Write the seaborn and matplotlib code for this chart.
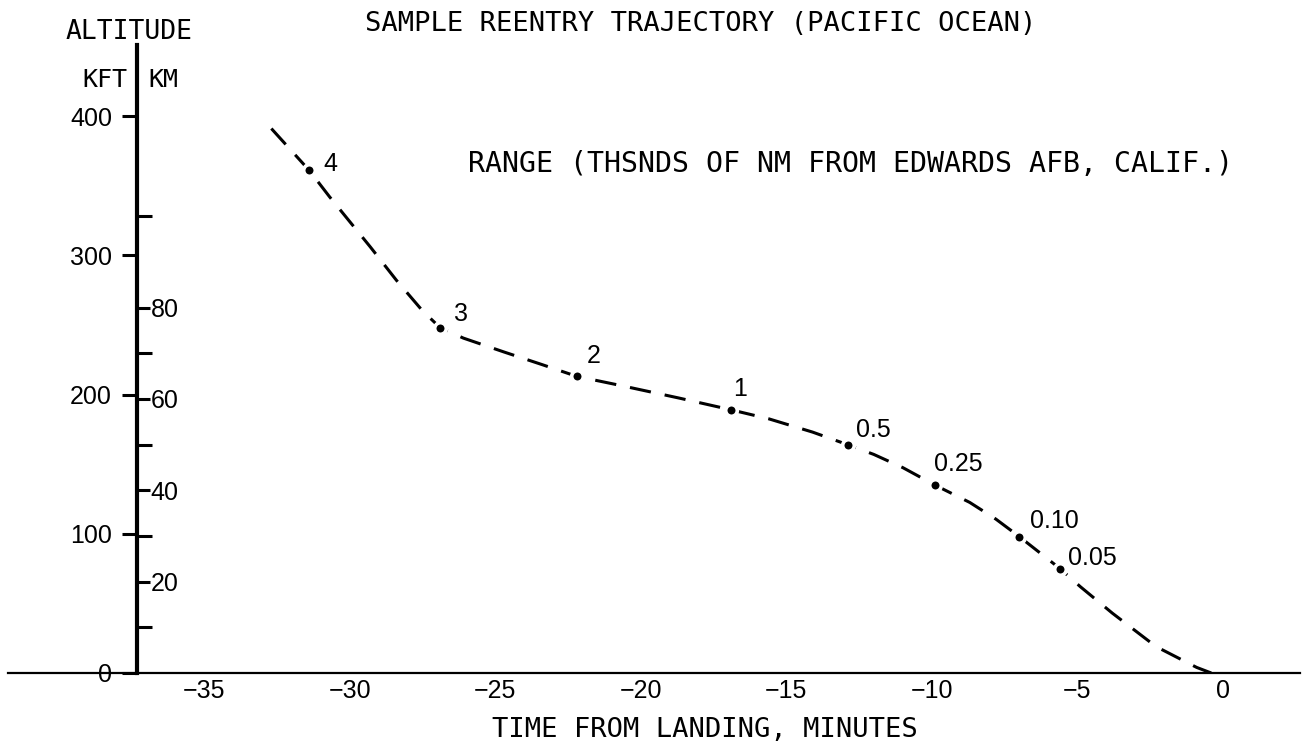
import matplotlib
matplotlib.use("Agg")
import matplotlib.pyplot as plt
from matplotlib.ticker import FixedLocator, NullFormatter
import pandas as pd
import seaborn as sns

# Reentry trajectory trace: minutes from landing vs altitude (kft)
traj_time = [-32.7, -31.4, -30.7, -29.3, -28.4, -27.5, -26.9, -26.1,
             -24.7, -23.4, -22.2, -20.7, -18.7, -16.9, -15.6, -14.1,
             -12.9, -12.0, -11.0, -9.9, -8.7, -7.8, -7.0, -5.6,
             -4.9, -3.8, -2.3, -0.9, -0.4]
traj_alt = [391, 361, 342, 306, 282, 260, 248, 240.5,
            230.5, 221.5, 213, 206.5, 197.5, 189, 182.5, 173,
            164, 157, 147.5, 135, 122.5, 110.5, 98, 75,
            62, 43, 19, 4, 0]

# Range checkpoints (thousands of NM from Edwards AFB)
range_labels = ["4", "3", "2", "1", "0.5", "0.25", "0.10", "0.05"]
range_time = [-31.4, -26.9, -22.2, -16.9, -12.9, -9.9, -7.0, -5.6]
range_alt = [361, 248, 213, 189, 164, 135, 98, 75]

time_ticks = [-35, -30, -25, -20, -15, -10, -5, 0]
kft_ticks = [0, 100, 200, 300, 400]
km_major = [20, 40, 60, 80]
km_minor = [10, 30, 50, 70, 100]

KFT_TO_KM = 0.3048
AXIS_TIME = -37.32          # where the altitude scale crosses the time axis
XLIM = (-41.75, 2.65)
YLIM = (0, 451)

sns.set_theme(style="white", rc={
    "axes.edgecolor": "black",
    "xtick.color": "black",
    "ytick.color": "black",
    "text.color": "black",
    "axes.labelcolor": "black",
})
plt.rcParams["font.family"] = ["Liberation Sans", "DejaVu Sans"]
MONO = "DejaVu Sans Mono"

fig = plt.figure(figsize=(13.1, 7.43), dpi=100)
ax = fig.add_axes([8 / 1310, 70 / 743, 1292 / 1310, 628 / 743])

traj = pd.DataFrame({"time": traj_time, "alt": traj_alt})
marks = pd.DataFrame({"time": range_time, "alt": range_alt, "label": range_labels})

sns.lineplot(data=traj, x="time", y="alt", ax=ax, color="black",
             linewidth=2.2, linestyle=(0, (7, 4.6)), sort=False,
             estimator=None, errorbar=None)
# white ring around each dot opens a small gap in the dashed trace
sns.scatterplot(data=marks, x="time", y="alt", ax=ax, color="black",
                s=70, edgecolor="white", linewidth=2.6, zorder=3)

# label offsets in pixels (right, up) from each checkpoint dot
label_offsets = [(14, 6), (14, 14), (10, 20), (2, 21),
                 (8, 15), (-1, 21), (11, 16), (8, 11)]
for lbl, t, a, (dx, dy) in zip(marks["label"], marks["time"], marks["alt"], label_offsets):
    ax.annotate(lbl, (t, a), xytext=(dx * 0.72, dy * 0.72),
                textcoords="offset points", ha="left", va="center",
                fontsize=18)

ax.set_xlim(*XLIM)
ax.set_ylim(*YLIM)
ax.set_xlabel("")
ax.set_ylabel("")

for side in ("top", "right"):
    ax.spines[side].set_visible(False)
ax.spines["left"].set_position(("data", AXIS_TIME))
ax.spines["left"].set_linewidth(3)
ax.spines["bottom"].set_linewidth(1.6)

ax.set_xticks(time_ticks)
ax.set_xticklabels([f"\u2212{abs(v)}" if v < 0 else str(v) for v in time_ticks])
ax.tick_params(axis="x", direction="in", length=10, width=2, pad=4, labelsize=18)

ax.set_yticks(kft_ticks)
ax.set_yticklabels([str(v) for v in kft_ticks])
ax.tick_params(axis="y", direction="out", length=11, width=2.2, pad=7, labelsize=18)

# kilometre scale on the right side of the same vertical line
ax2 = ax.twinx()
ax2.set_ylim(YLIM[0] * KFT_TO_KM, YLIM[1] * KFT_TO_KM)
for side in ("top", "left", "bottom", "right"):
    ax2.spines[side].set_visible(False)
ax2.spines["right"].set_position(("data", AXIS_TIME))
ax2.yaxis.set_major_locator(FixedLocator(km_major))
ax2.yaxis.set_minor_locator(FixedLocator(km_minor))
ax2.yaxis.set_minor_formatter(NullFormatter())
ax2.set_yticklabels([str(v) for v in km_major])
ax2.tick_params(axis="y", which="major", direction="out", length=9,
                width=2.2, pad=1, labelsize=18)
ax2.tick_params(axis="y", which="minor", direction="out", length=11, width=2.2)
ax2.grid(False)
ax.grid(False)

fig.text(701 / 1310, 1 - 24 / 743, "SAMPLE REENTRY TRAJECTORY (PACIFIC OCEAN)",
         family=MONO, fontsize=19.5, ha="center", va="center")
fig.text(129 / 1310, 1 - 32 / 743, "ALTITUDE", family=MONO, fontsize=19,
         ha="center", va="center")
fig.text(105 / 1310, 1 - 80 / 743, "KFT", family=MONO, fontsize=18,
         ha="center", va="center")
fig.text(163 / 1310, 1 - 80 / 743, "KM", family=MONO, fontsize=18,
         ha="center", va="center")
fig.text(851 / 1310, 1 - 164 / 743,
         "RANGE (THSNDS OF NM FROM EDWARDS AFB, CALIF.)",
         family=MONO, fontsize=20.3, ha="center", va="center")
fig.text(705 / 1310, 1 - 730 / 743, "TIME FROM LANDING, MINUTES",
         family=MONO, fontsize=19.5, ha="center", va="center")

fig.savefig("out.png", dpi=100, facecolor="white")
